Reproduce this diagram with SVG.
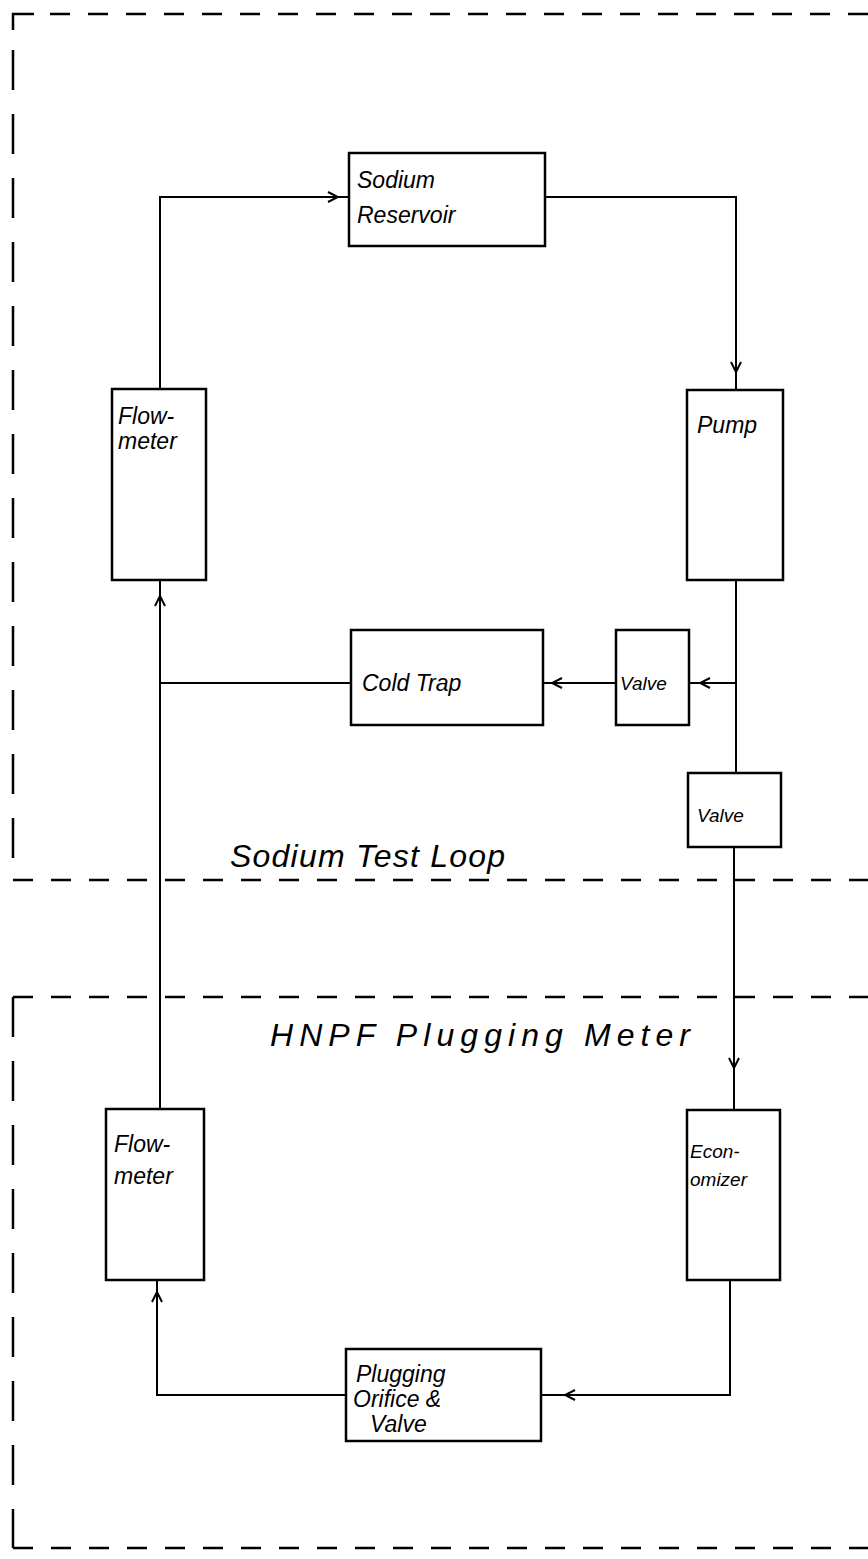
<svg xmlns="http://www.w3.org/2000/svg" width="868" height="1559" viewBox="0 0 868 1559">
<style>
.bg{fill:#fff}
.box{fill:#fff;stroke:#000;stroke-width:2.5}
.line{fill:none;stroke:#000;stroke-width:2}
.dash{fill:none;stroke:#000;stroke-width:2.5;stroke-dasharray:20 18}
.vdash{fill:none;stroke:#000;stroke-width:2.5;stroke-dasharray:40 24}
text{font-family:"Liberation Sans","DejaVu Sans",sans-serif;font-style:italic;fill:#000}
.t{font-size:23px}
.s{font-size:19px}
.big{font-size:32px}
</style>
<defs>
<marker id="arr" markerWidth="14" markerHeight="14" refX="12" refY="7" orient="auto" markerUnits="userSpaceOnUse">
<path d="M2,2 L12,7 L2,12" fill="none" stroke="#000" stroke-width="2"/>
</marker>
</defs>
<rect class="bg" x="0" y="0" width="868" height="1559"/>
<g id="boundaries">
<path class="line" d="M13,30 V14 H34" style="stroke-width:2.5"/>
<path class="dash" d="M50,14 H868"/>
<path class="vdash" d="M13,50 V880"/>
<path class="dash" d="M13,880 H868"/>
<path class="dash" d="M13,997 H868"/>
<path class="vdash" d="M13,997 V1548"/>
<path class="dash" d="M13,1548 H868"/>
</g>
<g id="connectors">
<path class="line" d="M160,389 V197 H338" marker-end="url(#arr)"/>
<path class="line" d="M336,197 H349"/>
<path class="line" d="M545,197 H736 V372" marker-end="url(#arr)"/>
<path class="line" d="M736,370 V390"/>
<path class="line" d="M736,580 V773"/>
<path class="line" d="M736,683 H700" marker-end="url(#arr)"/>
<path class="line" d="M702,683 H689"/>
<path class="line" d="M616,683 H552" marker-end="url(#arr)"/>
<path class="line" d="M554,683 H543"/>
<path class="line" d="M351,683 H160"/>
<path class="line" d="M160,1109 V596" marker-end="url(#arr)"/>
<path class="line" d="M160,598 V580"/>
<path class="line" d="M734,847 V1068" marker-end="url(#arr)"/>
<path class="line" d="M734,1066 V1110"/>
<path class="line" d="M730,1280 V1395 H565" marker-end="url(#arr)"/>
<path class="line" d="M567,1395 H541"/>
<path class="line" d="M346,1395 H157 V1292" marker-end="url(#arr)"/>
<path class="line" d="M157,1294 V1280"/>
</g>
<g id="sodium-reservoir">
<rect class="box" x="349" y="153" width="196" height="93"/>
<text class="t" x="357" y="188">Sodium</text>
<text class="t" x="357" y="223">Reservoir</text>
</g>
<g id="flowmeter-upper">
<rect class="box" x="112" y="389" width="94" height="191"/>
<text class="t" x="118" y="424">Flow-</text>
<text class="t" x="118" y="449">meter</text>
</g>
<g id="pump">
<rect class="box" x="687" y="390" width="96" height="190"/>
<text class="t" x="697" y="433">Pump</text>
</g>
<g id="cold-trap">
<rect class="box" x="351" y="630" width="192" height="95"/>
<text class="t" x="362" y="691">Cold Trap</text>
</g>
<g id="valve-small">
<rect class="box" x="616" y="630" width="73" height="95"/>
<text class="s" x="620" y="690">Valve</text>
</g>
<g id="valve">
<rect class="box" x="688" y="773" width="93" height="74"/>
<text class="s" x="697" y="822">Valve</text>
</g>
<g id="label-sodium-test-loop">
<text class="big" x="230" y="867" textLength="275" lengthAdjust="spacing">Sodium Test  Loop</text>
</g>
<g id="label-hnpf">
<text class="big" x="270" y="1046" textLength="420" lengthAdjust="spacing">HNPF  Plugging Meter</text>
</g>
<g id="flowmeter-lower">
<rect class="box" x="106" y="1109" width="98" height="171"/>
<text class="t" x="114" y="1152">Flow-</text>
<text class="t" x="114" y="1184">meter</text>
</g>
<g id="economizer">
<rect class="box" x="687" y="1110" width="93" height="170"/>
<text class="s" x="690" y="1158">Econ-</text>
<text class="s" x="690" y="1186">omizer</text>
</g>
<g id="plugging">
<rect class="box" x="346" y="1349" width="195" height="92"/>
<text class="t" x="356" y="1382">Plugging</text>
<text class="t" x="353" y="1407">Orifice &amp;</text>
<text class="t" x="370" y="1432">Valve</text>
</g>
</svg>
